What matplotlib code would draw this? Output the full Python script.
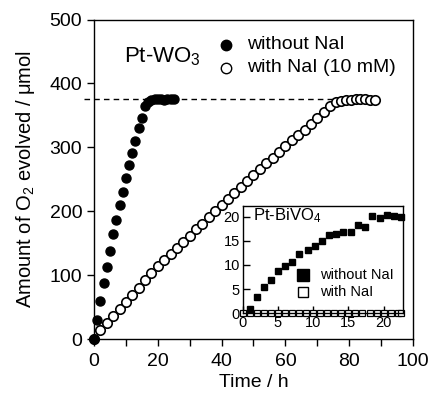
import matplotlib
matplotlib.use("Agg")
import matplotlib.pyplot as plt
from matplotlib.ticker import MultipleLocator

plt.rcParams['font.family'] = ['Liberation Sans', 'DejaVu Sans']
plt.rcParams['mathtext.fontset'] = 'custom'
plt.rcParams['mathtext.rm'] = 'Liberation Sans'
plt.rcParams['mathtext.it'] = 'Liberation Sans:italic'

# Pt-WO3 without NaI
t_wo = [0, 1, 2, 3, 4, 5, 6, 7, 8, 9, 10, 11, 12, 13, 14, 15, 16,
        17, 18, 19, 20, 21, 22, 23, 24, 25]
o2_wo = [0, 30, 60, 88, 113, 138, 164, 187, 210, 230, 252, 273, 292, 310, 330, 346, 364,
         371, 374, 375, 375, 375, 374, 375, 375, 376]

# Pt-WO3 with NaI (10 mM)
t_nai = [0, 2, 4, 6, 8, 10, 12, 14, 16, 18, 20, 22, 24, 26, 28, 30, 32, 34, 36, 38,
         40, 42, 44, 46, 48, 50, 52, 54, 56, 58, 60, 62, 64, 66, 68, 70, 72, 74, 76,
         77.5, 79, 80.5, 82, 83.5, 85, 86.5, 88]
o2_nai = [0, 14, 26, 37, 48, 59, 70, 81, 92, 103, 114, 124, 133, 143, 152, 162, 172,
          181, 191, 200, 210, 219, 229, 238, 248, 257, 267, 276, 284, 293, 302, 311,
          320, 328, 337, 346, 355, 364, 371, 373, 374, 374, 375, 375, 375, 374, 374]

plateau = 375

# Pt-BiVO4 inset
t_bi = [1, 2, 3, 4, 5, 6, 7, 8, 9.2, 10.2, 11.2, 12.3, 13.3, 14.3, 15.4, 16.4,
        17.4, 18.4, 19.5, 20.5, 21.5, 22.5]
o2_bi = [0.9, 3.4, 5.4, 6.9, 8.8, 9.7, 10.6, 12.3, 13.2, 13.9, 14.9, 16.3, 16.5,
         16.8, 16.9, 18.2, 17.9, 20.2, 19.7, 20.3, 20.2, 19.9]
t_bi_nai = [0, 1, 2, 3, 4, 5, 6, 7, 8, 9, 10, 11, 12, 13, 14, 15, 16, 17, 18, 19,
            20, 21, 22, 22.5]
o2_bi_nai = [0] * len(t_bi_nai)

fig = plt.figure(figsize=(4.32, 3.99), dpi=100)
ax = fig.add_axes([0.2176, 0.1496, 0.7384, 0.8015])

ax.plot([-3, 76], [plateau, plateau], ls=(0, (4, 3)), color='black', lw=1, clip_on=False)
ax.plot(t_nai, o2_nai, 'o', mfc='white', mec='black', ms=6.8, mew=1.2, clip_on=False)
ax.plot(t_wo, o2_wo, 'o', color='black', ms=6.5, clip_on=False, zorder=3)

ax.set_xlim(0, 100)
ax.set_ylim(0, 500)
ax.xaxis.set_major_locator(MultipleLocator(20))
ax.xaxis.set_minor_locator(MultipleLocator(10))
ax.yaxis.set_major_locator(MultipleLocator(100))
ax.tick_params(which='both', direction='out', length=5, width=1, labelsize=14)
ax.tick_params(axis='x', pad=5)
for s in ax.spines.values():
    s.set_linewidth(1)
ax.set_xlabel('Time / h', fontsize=14, labelpad=3)
ax.set_ylabel('Amount of O$_2$ evolved / \u03bcmol', fontsize=14.5, labelpad=9)

ax.text(9.5, 442, r'Pt-WO$_3$', fontsize=16, va='center', ha='left')
ax.plot([41.5], [460], 'o', color='black', ms=7.5)
ax.plot([41.5], [424], 'o', mfc='white', mec='black', ms=7.5, mew=1)
ax.text(48, 461, 'without NaI', fontsize=14, va='center')
ax.text(48, 425, 'with NaI (10 mM)', fontsize=14, va='center')

# inset
ins = fig.add_axes([0.5618, 0.2148, 0.3702, 0.2689])
ins.plot(t_bi_nai, o2_bi_nai, 's', mfc='white', mec='black', ms=4.5, mew=0.9, clip_on=False)
ins.plot(t_bi, o2_bi, 's', color='black', ms=4.8, clip_on=False)
ins.set_xlim(0, 22.7)
ins.set_ylim(0, 22.2)
ins.xaxis.set_major_locator(MultipleLocator(5))
ins.yaxis.set_major_locator(MultipleLocator(5))
ins.tick_params(direction='in', length=5, width=1, labelsize=10.5, pad=2)
for s in ins.spines.values():
    s.set_linewidth(1)
ins.text(1.5, 20.3, r'Pt-BiVO$_4$', fontsize=12, va='center')
ins.plot([8.5], [8.0], 's', color='black', ms=8)
ins.plot([8.5], [4.4], 's', mfc='white', mec='black', ms=7, mew=1)
ins.text(11, 8.0, 'without NaI', fontsize=10.5, va='center')
ins.text(11, 4.4, 'with NaI', fontsize=10.5, va='center')

fig.savefig('out.png', dpi=100)
